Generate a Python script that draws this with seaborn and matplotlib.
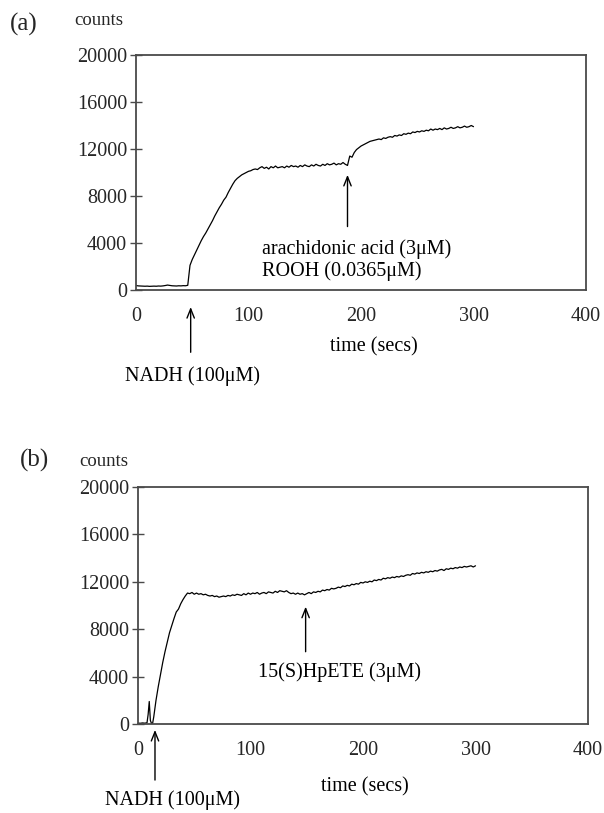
import numpy as np
import pandas as pd
import matplotlib
matplotlib.use("Agg")
import matplotlib.pyplot as plt
import seaborn as sns

# ---------------- data ----------------
time_a = list(range(0, 301, 2))
counts_a = (
    # 0 .. 46 s : baseline
    [380, 350, 340, 330, 320, 330, 310, 320, 330, 320, 340, 330, 350, 380, 420, 390,
     360, 350, 340, 360, 350, 370, 360, 400]
    # 48 .. 110 s : NADH response
    + [2100, 2600, 3000, 3400, 3800, 4200, 4550, 4850, 5200, 5550, 5900, 6300, 6650,
       7000, 7300, 7650, 7900, 8300, 8650, 9000, 9300, 9500, 9650, 9800, 9900, 10000,
       10100, 10150, 10250, 10300, 10250, 10400]
    # 112 .. 186 s : plateau
    + [10500, 10350, 10450, 10300, 10500, 10400, 10550, 10400, 10450, 10500,
       10400, 10550, 10450, 10600, 10500, 10550, 10450, 10600, 10500, 10650,
       10550, 10500, 10650, 10550, 10700, 10600, 10550, 10700, 10600, 10750,
       10650, 10700, 10800, 10650, 10750, 10700, 10850, 10700]
    # 188 .. 300 s : after arachidonic acid
    + [10600, 11400, 11300, 11700, 11950, 12100, 12250, 12350, 12450, 12550, 12650,
       12700, 12750, 12800, 12850, 12800, 12950, 12900, 13000, 13050, 13000, 13150,
       13100, 13200, 13150, 13300, 13250, 13350, 13300, 13450, 13400, 13500, 13450,
       13550, 13500, 13600, 13550, 13700, 13600, 13700, 13650, 13750, 13650, 13800,
       13700, 13750, 13850, 13750, 13800, 13900, 13800, 13850, 13950, 13850, 13900,
       14000, 13900]
)

time_b = [0, 2, 4, 6, 8, 9, 10, 11, 12, 13, 14] + list(range(16, 301, 2))
counts_b = (
    [80, 60, 90, 70, 100, 800, 1900, 300, 50, 60, 600]
    + [2000, 3150, 4200, 5200, 6100, 6900, 7700, 8300, 8900, 9450, 9700, 10150,
       10500, 10800, 11050]
    + [11000, 11100, 10950, 11050, 10950, 11000, 10900, 10950, 10850, 10800,
       10850, 10750, 10800, 10700, 10750, 10800, 10750, 10850, 10800, 10900,
       10850, 10950, 10900, 10850, 11000, 10900, 11050, 10950, 11050, 11000,
       11100, 10950, 11050, 11100, 11000, 11150, 11100, 11050, 11200, 11100,
       11250, 11200, 11150, 11250, 11100, 11000, 11050, 10950, 11050, 10950,
       11000, 10900, 11000]
    + [11100, 11000, 11150, 11100, 11200, 11150, 11300, 11250, 11350, 11300,
       11450, 11400, 11450, 11550, 11500, 11650, 11600, 11700, 11650, 11800,
       11750, 11850, 11800, 11950, 11900, 12000, 11950, 12050, 12000, 12150,
       12100, 12200, 12150, 12300, 12250, 12350, 12300, 12400, 12350, 12450,
       12400, 12500, 12450, 12550, 12600, 12550, 12700, 12650, 12750, 12700,
       12800, 12750, 12850, 12800, 12900, 12850, 12950, 12900, 13000, 13050,
       12950, 13100, 13050, 13150, 13100, 13200, 13150, 13250, 13200, 13300,
       13250, 13300, 13350, 13250, 13350]
)

x_ticks = [0, 100, 200, 300, 400]
y_ticks = [0, 4000, 8000, 12000, 16000, 20000]

assert len(time_a) == len(counts_a)
assert len(time_b) == len(counts_b)

df_a = pd.DataFrame({"time": time_a, "counts": counts_a})
df_b = pd.DataFrame({"time": time_b, "counts": counts_b})

# ---------------- style ----------------
sns.set_theme(style="white")
plt.rcParams["font.family"] = ["Liberation Serif", "DejaVu Serif"]

W, H = 604, 813
fig = plt.figure(figsize=(W / 100, H / 100), dpi=100)


def px(x, y):
    return x / W, 1 - y / H


ax_a = fig.add_axes([136 / W, 1 - 290 / H, 450 / W, 235 / H])
ax_b = fig.add_axes([138 / W, 1 - 724 / H, 450 / W, 237 / H])

frame_col = "#4a4a4a"
for ax, df in ((ax_a, df_a), (ax_b, df_b)):
    sns.lineplot(data=df, x="time", y="counts", ax=ax, color="black",
                 linewidth=0.9, estimator=None)
    ax.set_xlim(0, 400)
    ax.set_ylim(0, 20000)
    ax.set_xticks(x_ticks)
    ax.set_yticks(y_ticks)
    ax.set_xticklabels([str(v) for v in x_ticks])
    ax.set_yticklabels([str(v) for v in y_ticks])
    ax.set_xlabel("")
    ax.set_ylabel("")
    ax.tick_params(axis="y", direction="inout", length=9, width=1.0,
                   color=frame_col, pad=2, labelsize=14.5, left=True)
    ax.tick_params(axis="x", length=0, pad=12, labelsize=14.5)
    for s in ax.spines.values():
        s.set_visible(True)
        s.set_color(frame_col)
        s.set_linewidth(1.3)
    ax.grid(False)

arrow_kw = dict(arrowstyle="->,head_length=0.55,head_width=0.22", lw=1.0,
                color="black", shrinkA=0, shrinkB=0)
txt_kw = dict(fontsize=14.5, color="black")

# ---- panel (a) ----
fig.text(*px(10, 31), "(a)", fontsize=18, ha="left", va="baseline")
fig.text(*px(74, 25), "counts", fontsize=13.5, ha="left", va="baseline")
ax_a.annotate("", xy=(188, 9800), xytext=(188, 5400), arrowprops=arrow_kw,
              annotation_clip=False)
ax_a.text(112, 3490, "arachidonic acid (3\u03bcM)", ha="left", va="center", **txt_kw)
ax_a.text(112, 1620, "ROOH (0.0365\u03bcM)", ha="left", va="center", **txt_kw)
ax_a.annotate("", xy=(48.6, -1450), xytext=(48.6, -5300), arrowprops=arrow_kw,
              annotation_clip=False)
ax_a.text(49.8, -7300, "NADH (100\u03bcM)", ha="center", va="center",
          clip_on=False, **txt_kw)
ax_a.text(211, -4830, "time (secs)", ha="center", va="center", clip_on=False,
          **txt_kw)

# ---- panel (b) ----
fig.text(*px(20, 467), "(b)", fontsize=18, ha="left", va="baseline")
fig.text(*px(79, 466), "counts", fontsize=13.5, ha="left", va="baseline")
ax_b.annotate("", xy=(149, 9900), xytext=(149, 6100), arrowprops=arrow_kw,
              annotation_clip=False)
ax_b.text(179, 4390, "15(S)HpETE (3\u03bcM)", ha="center", va="center", **txt_kw)
ax_b.annotate("", xy=(15.1, -500), xytext=(15.1, -4730), arrowprops=arrow_kw,
              annotation_clip=False)
ax_b.text(31, -6450, "NADH (100\u03bcM)", ha="center", va="center",
          clip_on=False, **txt_kw)
ax_b.text(201.5, -5320, "time (secs)", ha="center", va="center", clip_on=False,
          **txt_kw)

fig.savefig("out.png", dpi=100, facecolor="white")
